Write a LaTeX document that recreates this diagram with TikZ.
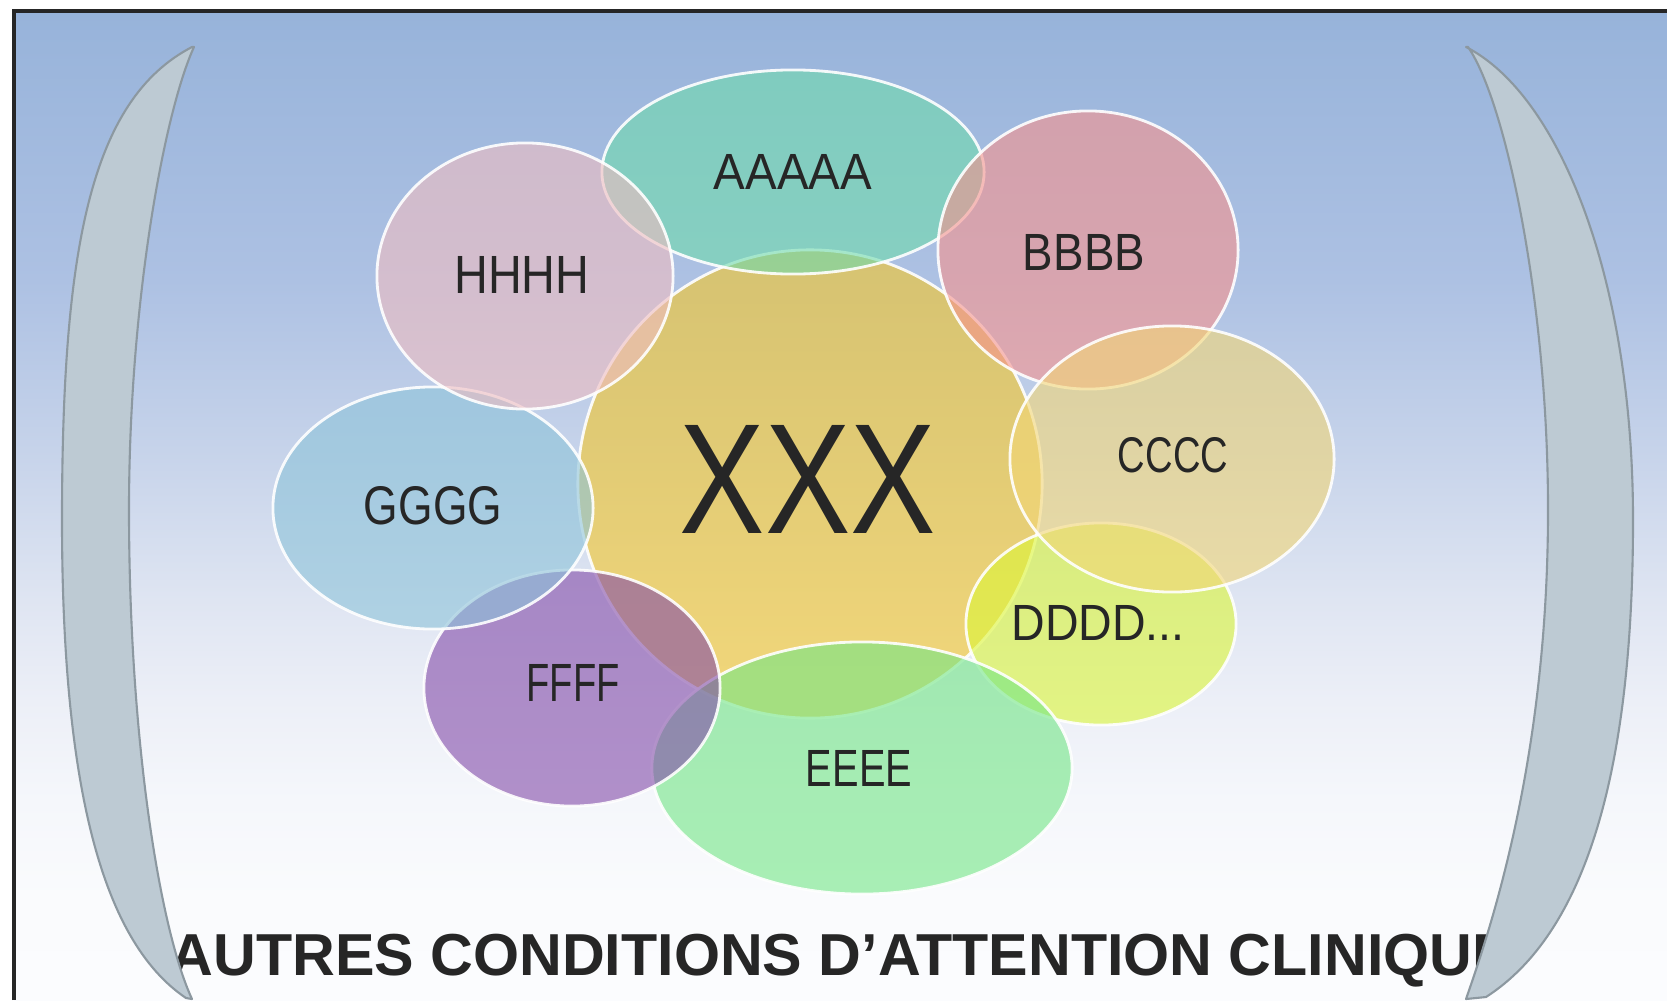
\documentclass[tikz,border=0pt]{standalone}
\usepackage{fontspec}
\newfontfamily\lsans{Liberation Sans}
\usetikzlibrary{shapes.geometric}
\definecolor{txt}{HTML}{262626}
\definecolor{bgA}{HTML}{FBFCFE}
\definecolor{bgB}{HTML}{FAFBFD}
\definecolor{bgC}{HTML}{F5F7FB}
\definecolor{bgD}{HTML}{ECEFF7}
\definecolor{bgE}{HTML}{DFE5F2}
\definecolor{bgF}{HTML}{C6D3EA}
\definecolor{bgG}{HTML}{ADC1E3}
\definecolor{bgH}{HTML}{97B3DA}
\definecolor{cX}{HTML}{F4C627}
\definecolor{cA}{HTML}{6EDAAC}
\definecolor{cB}{HTML}{F5928D}
\definecolor{cC}{HTML}{F2D676}
\definecolor{cD}{HTML}{DBF637}
\definecolor{cE}{HTML}{72E685}
\definecolor{cF}{HTML}{834BA9}
\definecolor{cG}{HTML}{8DC3D9}
\definecolor{cH}{HTML}{EEBCC0}
\definecolor{brkfill}{HTML}{BDCAD3}
\definecolor{brkline}{HTML}{8C98A0}
\pgfdeclareverticalshading{bgsh}{100bp}{color(0bp)=(bgA); color(25bp)=(bgA); color(30.06bp)=(bgB); color(35.11bp)=(bgC); color(40.17bp)=(bgD); color(45.22bp)=(bgE); color(52.81bp)=(bgF); color(61.4bp)=(bgG); color(75bp)=(bgH); color(100bp)=(bgH)}
\tikzset{
  blob/.style={ellipse, draw=white, line width=0.8pt, fill opacity=0.6, draw opacity=0.9, inner sep=0pt},
  lbl/.style={inner sep=0pt, text=txt, font=\lsans},
  brk/.style={fill=brkfill, draw=brkline, line width=0.6pt, line join=round},
  frame/.style={draw=txt, line width=1.15pt}
}
\begin{document}
\begin{tikzpicture}[x=0.01cm, y=-0.01cm]
\useasboundingbox (0,0) rectangle (1667,1000);
\fill[white] (0,0) rectangle (1667,1000);
\shade[shading=bgsh] (14,11) rectangle (1667,1000);
\draw[frame] (14,1000) -- (14,11) -- (1667,11);

% circles
\node[blob, fill=cX, minimum width=4.64cm, minimum height=4.68cm] (xx) at (810,484) {};
\node[blob, fill=cA, minimum width=3.82cm, minimum height=2.04cm] (ea) at (793,172) {};
\node[blob, fill=cB, minimum width=3.00cm, minimum height=2.78cm] (eb) at (1088,250) {};
\node[blob, fill=cD, minimum width=2.70cm, minimum height=2.02cm] (ed) at (1101,624) {};
\node[blob, fill=cC, minimum width=3.24cm, minimum height=2.66cm] (ec) at (1172,459) {};
\node[blob, fill=cE, minimum width=4.20cm, minimum height=2.52cm] (ee) at (862,768) {};
\node[blob, fill=cF, minimum width=2.96cm, minimum height=2.36cm] (ef) at (572,688) {};
\node[blob, fill=cG, minimum width=3.20cm, minimum height=2.42cm] (eg) at (433,508) {};
\node[blob, fill=cH, minimum width=2.96cm, minimum height=2.66cm] (eh) at (525,276) {};

% labels
\node[lbl] (tx) at (808,479) {\resizebox{2.56cm}{1.08cm}{XXX}};
\node[lbl] (ta) at (793,172) {\resizebox{1.58cm}{0.35cm}{AAAAA}};
\node[lbl] (tb) at (1084,252) {\resizebox{1.22cm}{0.36cm}{BBBB}};
\node[lbl] (tc) at (1173,455) {\resizebox{1.10cm}{0.35cm}{CCCC}};
\node[lbl] (td) at (1098,623) {\resizebox{1.73cm}{0.35cm}{DDDD...}};
\node[lbl] (te) at (859,768) {\resizebox{1.06cm}{0.36cm}{EEEE}};
\node[lbl] (tf) at (573,683) {\resizebox{0.93cm}{0.37cm}{FFFF}};
\node[lbl] (tg) at (433,506) {\resizebox{1.38cm}{0.38cm}{GGGG}};
\node[lbl] (th) at (522,275) {\resizebox{1.35cm}{0.37cm}{HHHH}};

% title
\node[anchor=base west, inner sep=0pt, text=txt, font=\lsans\bfseries\fontsize{16.84pt}{20pt}\selectfont] (title) at (170,975) {AUTRES CONDITIONS D’ATTENTION CLINIQUE};

% brackets
\draw[brk] (192,47) .. controls (90,100) and (62,250) .. (62,520)
  .. controls (62,780) and (100,940) .. (186,998)
  -- (192,999) .. controls (160,930) and (129,740) .. (129,510)
  .. controls (129,300) and (165,110) .. (194,47) -- cycle;
\draw[brk] (1466,47) .. controls (1560,95) and (1633,280) .. (1633,520)
  .. controls (1633,760) and (1590,930) .. (1486,997)
  -- (1466,999) .. controls (1490,930) and (1548,760) .. (1548,510)
  .. controls (1548,300) and (1505,100) .. (1468,47) -- cycle;
\end{tikzpicture}
\end{document}
